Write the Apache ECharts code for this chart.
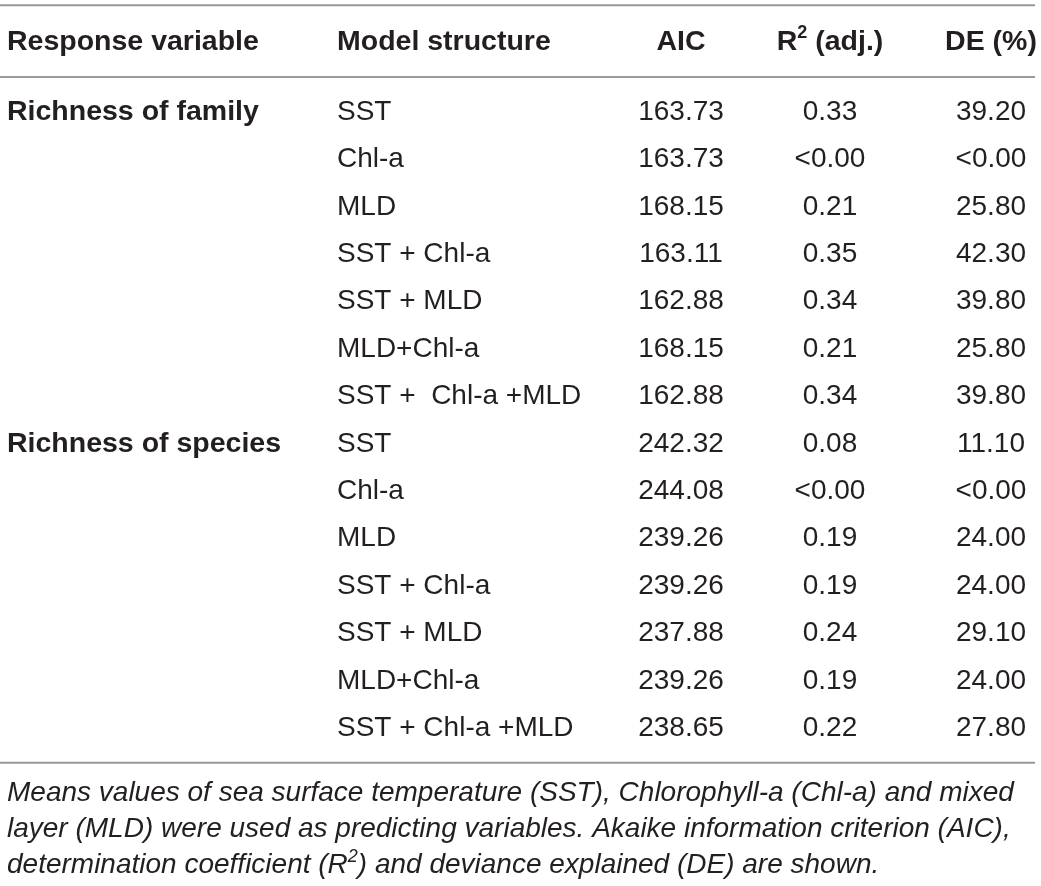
<!DOCTYPE html>
<html>
<head>
<meta charset="utf-8">
<script src="https://cdn.jsdelivr.net/npm/echarts@6/dist/echarts.min.js"></script>
<style>
  html, body { margin: 0; padding: 0; background: #fff; }
  #main { width: 1041px; height: 886px; }
</style>
</head>
<body>
<div id="main"></div>
<script>
// table data
var headers = ['Response variable', 'Model structure', 'AIC', 'R{sup|2} (adj.)', 'DE (%)']
var responseVars = ['Richness of family', 'Richness of species']
var familyModels = ['SST', 'Chl-a', 'MLD', 'SST + Chl-a', 'SST + MLD', 'MLD+Chl-a', 'SST +  Chl-a +MLD']
var speciesModels = ['SST', 'Chl-a', 'MLD', 'SST + Chl-a', 'SST + MLD', 'MLD+Chl-a', 'SST + Chl-a +MLD']
var aicValues = ['163.73', '163.73', '168.15', '163.11', '162.88', '168.15', '162.88',
  '242.32', '244.08', '239.26', '239.26', '237.88', '239.26', '238.65']
var r2Values = ['0.33', '<0.00', '0.21', '0.35', '0.34', '0.21', '0.34',
  '0.08', '<0.00', '0.19', '0.19', '0.24', '0.19', '0.22']
var deValues = ['39.20', '<0.00', '25.80', '42.30', '39.80', '25.80', '39.80',
  '11.10', '<0.00', '24.00', '24.00', '29.10', '24.00', '27.80']
var captionLines = [
  'Means values of sea surface temperature (SST), Chlorophyll-a (Chl-a) and mixed',
  'layer (MLD) were used as predicting variables. Akaike information criterion (AIC),',
  'determination coefficient (R{sup|2}) and deviance explained (DE) are shown.'
]

// layout (not data)
var colAnchor = [7, 337, 681, 830, 991] // x of each column anchor
var colAlign = ['left', 'left', 'center', 'center', 'center']
var headerRow = -1.48
var ruleRows = [-2.25, -0.74, 13.73]
var fontFamily = '"Liberation Sans", Arial, Helvetica, sans-serif'
var textColor = '#231f20'

// build cells [col, row, text, bold]
var cells = []
headers.forEach(function(h, c) {
  cells.push([c, headerRow, h, true])
})
var models = familyModels.concat(speciesModels)
models.forEach(function(m, i) {
  if (i === 0) cells.push([0, i, responseVars[0], true])
  if (i === familyModels.length) cells.push([0, i, responseVars[1], true])
  cells.push([1, i, m, false])
  cells.push([2, i, aicValues[i], false])
  cells.push([3, i, r2Values[i], false])
  cells.push([4, i, deValues[i], false])
})

var myChart = echarts.init(document.getElementById('main'))
var option

option = {
  animation: false,
  backgroundColor: '#fff',
  title: {
    text: captionLines.join('\n'),
    left: 7,
    top: 775,
    padding: 0,
    textStyle: {
      fontFamily: fontFamily,
      fontStyle: 'italic',
      fontWeight: 'normal',
      fontSize: 28,
      lineHeight: 36,
      color: textColor,
      rich: {
        sup: {
          fontFamily: fontFamily,
          fontStyle: 'italic',
          fontSize: 18,
          color: textColor,
          padding: [0, 0, 16, 0]
        }
      }
    }
  },
  grid: {
    left: 0,
    right: 6,
    top: 0,
    bottom: 0
  },
  xAxis: {
    type: 'value',
    min: 0,
    max: 1035,
    show: false
  },
  yAxis: {
    type: 'value',
    inverse: true,
    // 行号 -> 像素: y = 112 + 47.4 * row
    min: -112 / 47.4,
    max: (886 - 112) / 47.4,
    show: false
  },
  series: [
    {
      // 表格横线
      type: 'custom',
      silent: true,
      data: ruleRows.map(function(r) { return [0, r] }),
      renderItem: function(params, api) {
        var p0 = api.coord([0, api.value(1)])
        var p1 = api.coord([1035, api.value(1)])
        return {
          type: 'line',
          shape: { x1: p0[0], y1: p0[1], x2: p1[0], y2: p1[1] },
          style: { stroke: '#9a9a9a', lineWidth: 2 }
        }
      }
    },
    {
      // 单元格文字
      type: 'custom',
      silent: true,
      data: cells.map(function(c) { return [c[0], c[1]] }),
      renderItem: function(params, api) {
        var cell = cells[params.dataIndex]
        var col = api.value(0)
        var pt = api.coord([colAnchor[col], api.value(1)])
        return {
          type: 'text',
          x: pt[0],
          y: pt[1],
          style: {
            text: cell[2],
            fontFamily: fontFamily,
            fontSize: cell[3] ? 28.5 : 28,
            fontWeight: cell[3] ? 'bold' : 'normal',
            fill: textColor,
            align: colAlign[col],
            verticalAlign: 'middle',
            rich: {
              sup: {
                fontFamily: fontFamily,
                fontSize: 18,
                fontWeight: 'bold',
                fill: textColor,
                padding: [0, 0, 18, 0]
              }
            }
          }
        }
      }
    }
  ]
}

option && myChart.setOption(option)
</script>
</body>
</html>
